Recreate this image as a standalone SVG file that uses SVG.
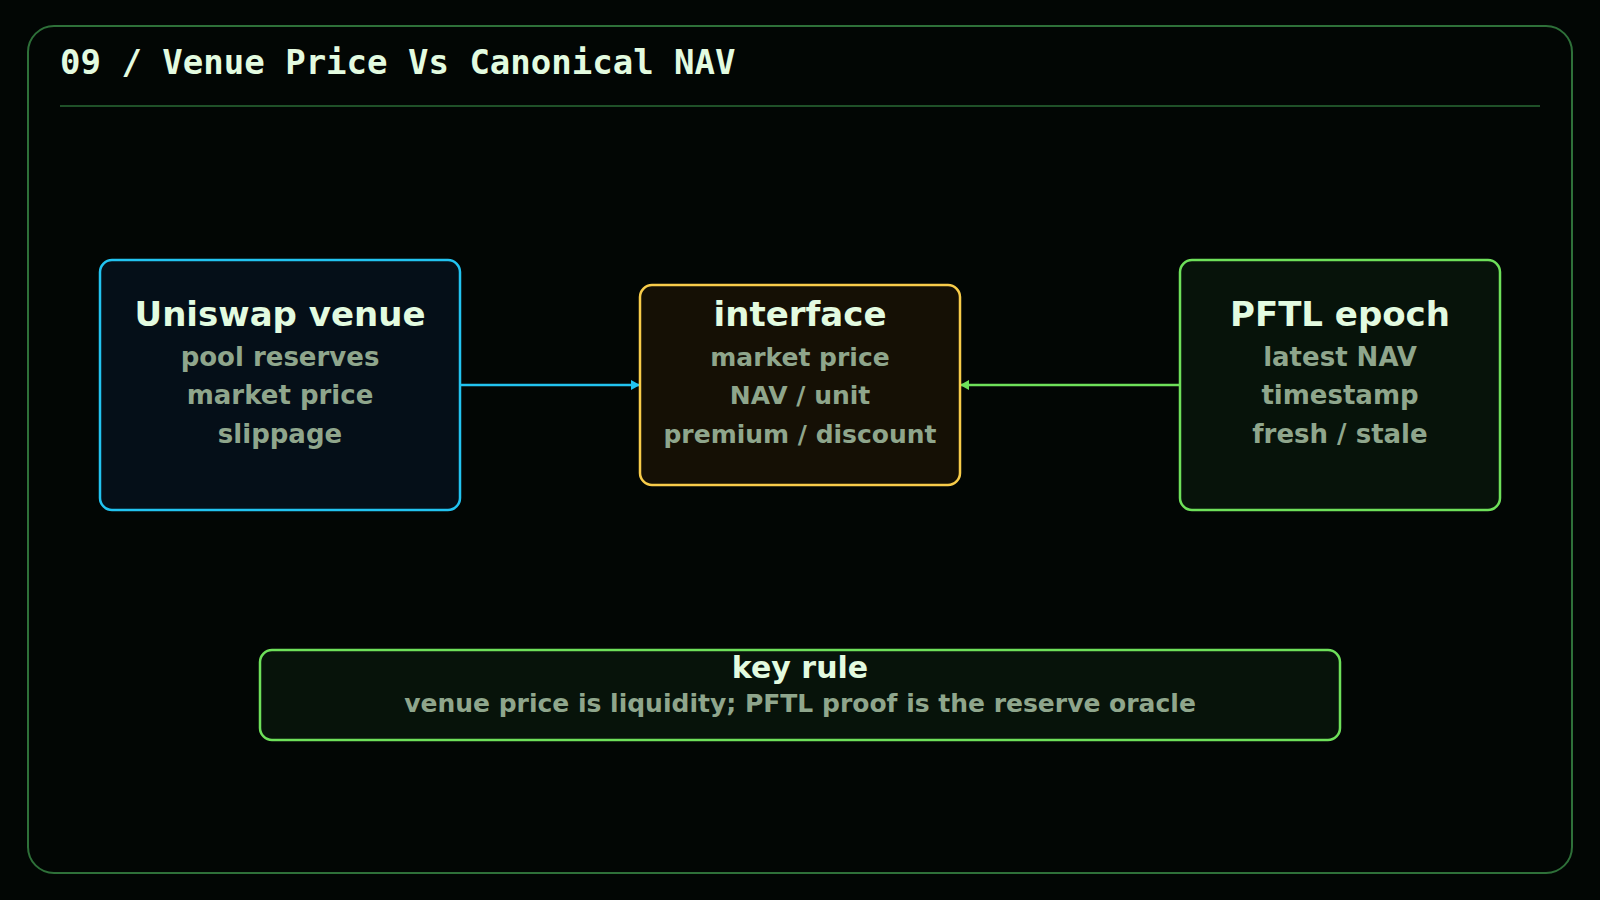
<svg xmlns="http://www.w3.org/2000/svg" width="1600" height="900" viewBox="0 0 1600 900">
  <defs>
    <style>
      .title { font-family: "DejaVu Sans Mono", "Liberation Mono", monospace; font-weight: bold; font-size: 34px; fill: #e3fbe0; }
      .ntitle { font-family: "DejaVu Sans", "Liberation Sans", sans-serif; font-weight: bold; font-size: 34px; fill: #e3fbe0; text-anchor: middle; }
      .nsub { font-family: "DejaVu Sans", "Liberation Sans", sans-serif; font-weight: bold; font-size: 26px; fill: #8fa68c; text-anchor: middle; }
      .nsub-s { font-size: 25px; }
      .ktitle { font-family: "DejaVu Sans", "Liberation Sans", sans-serif; font-weight: bold; font-size: 30px; fill: #e3fbe0; text-anchor: middle; }
      .ksub { font-family: "DejaVu Sans", "Liberation Sans", sans-serif; font-weight: bold; font-size: 25px; fill: #8fa68c; text-anchor: middle; }
      .box { stroke-width: 2.5; }
      .conn { fill: none; stroke-width: 2.5; }
    </style>
    <marker id="arrowBlue" markerUnits="userSpaceOnUse" markerWidth="9" markerHeight="10" refX="9" refY="5" orient="auto">
      <path d="M0,0 L9,5 L0,10 z" fill="#22c3f0"/>
    </marker>
    <marker id="arrowGreen" markerUnits="userSpaceOnUse" markerWidth="9" markerHeight="10" refX="9" refY="5" orient="auto">
      <path d="M0,0 L9,5 L0,10 z" fill="#6ee05a"/>
    </marker>
  </defs>

  <rect x="0" y="0" width="1600" height="900" fill="#020604"/>
  <rect x="28" y="26" width="1544" height="847" rx="26" ry="26" fill="#020604" stroke="#2e7039" stroke-width="2"/>
  <text class="title" x="60" y="74">09 / Venue Price Vs Canonical NAV</text>
  <line x1="60" y1="106" x2="1540" y2="106" stroke="#1f5028" stroke-width="2"/>

  <g id="connectors">
    <line class="conn" x1="460" y1="385" x2="640" y2="385" stroke="#22c3f0" marker-end="url(#arrowBlue)"/>
    <line class="conn" x1="1180" y1="385" x2="960" y2="385" stroke="#6ee05a" marker-end="url(#arrowGreen)"/>
  </g>

  <g id="node-uniswap">
    <rect class="box" x="100" y="260" width="360" height="250" rx="12" ry="12" fill="#050f18" stroke="#22c3f0"/>
    <text class="ntitle" x="280" y="326">Uniswap venue</text>
    <text class="nsub" x="280" y="366">pool reserves</text>
    <text class="nsub" x="280" y="404">market price</text>
    <text class="nsub" x="280" y="443">slippage</text>
  </g>

  <g id="node-interface">
    <rect class="box" x="640" y="285" width="320" height="200" rx="12" ry="12" fill="#151005" stroke="#f8cc4a"/>
    <text class="ntitle" x="800" y="326">interface</text>
    <text class="nsub nsub-s" x="800" y="366">market price</text>
    <text class="nsub nsub-s" x="800" y="404">NAV / unit</text>
    <text class="nsub nsub-s" x="800" y="443">premium / discount</text>
  </g>

  <g id="node-pftl">
    <rect class="box" x="1180" y="260" width="320" height="250" rx="12" ry="12" fill="#07130a" stroke="#6ee05a"/>
    <text class="ntitle" x="1340" y="326">PFTL epoch</text>
    <text class="nsub" x="1340" y="366">latest NAV</text>
    <text class="nsub" x="1340" y="404">timestamp</text>
    <text class="nsub" x="1340" y="443">fresh / stale</text>
  </g>

  <g id="node-keyrule">
    <rect class="box" x="260" y="650" width="1080" height="90" rx="12" ry="12" fill="#07130a" stroke="#6ee05a"/>
    <text class="ktitle" x="800" y="678">key rule</text>
    <text class="ksub" x="800" y="712">venue price is liquidity; PFTL proof is the reserve oracle</text>
  </g>
</svg>
